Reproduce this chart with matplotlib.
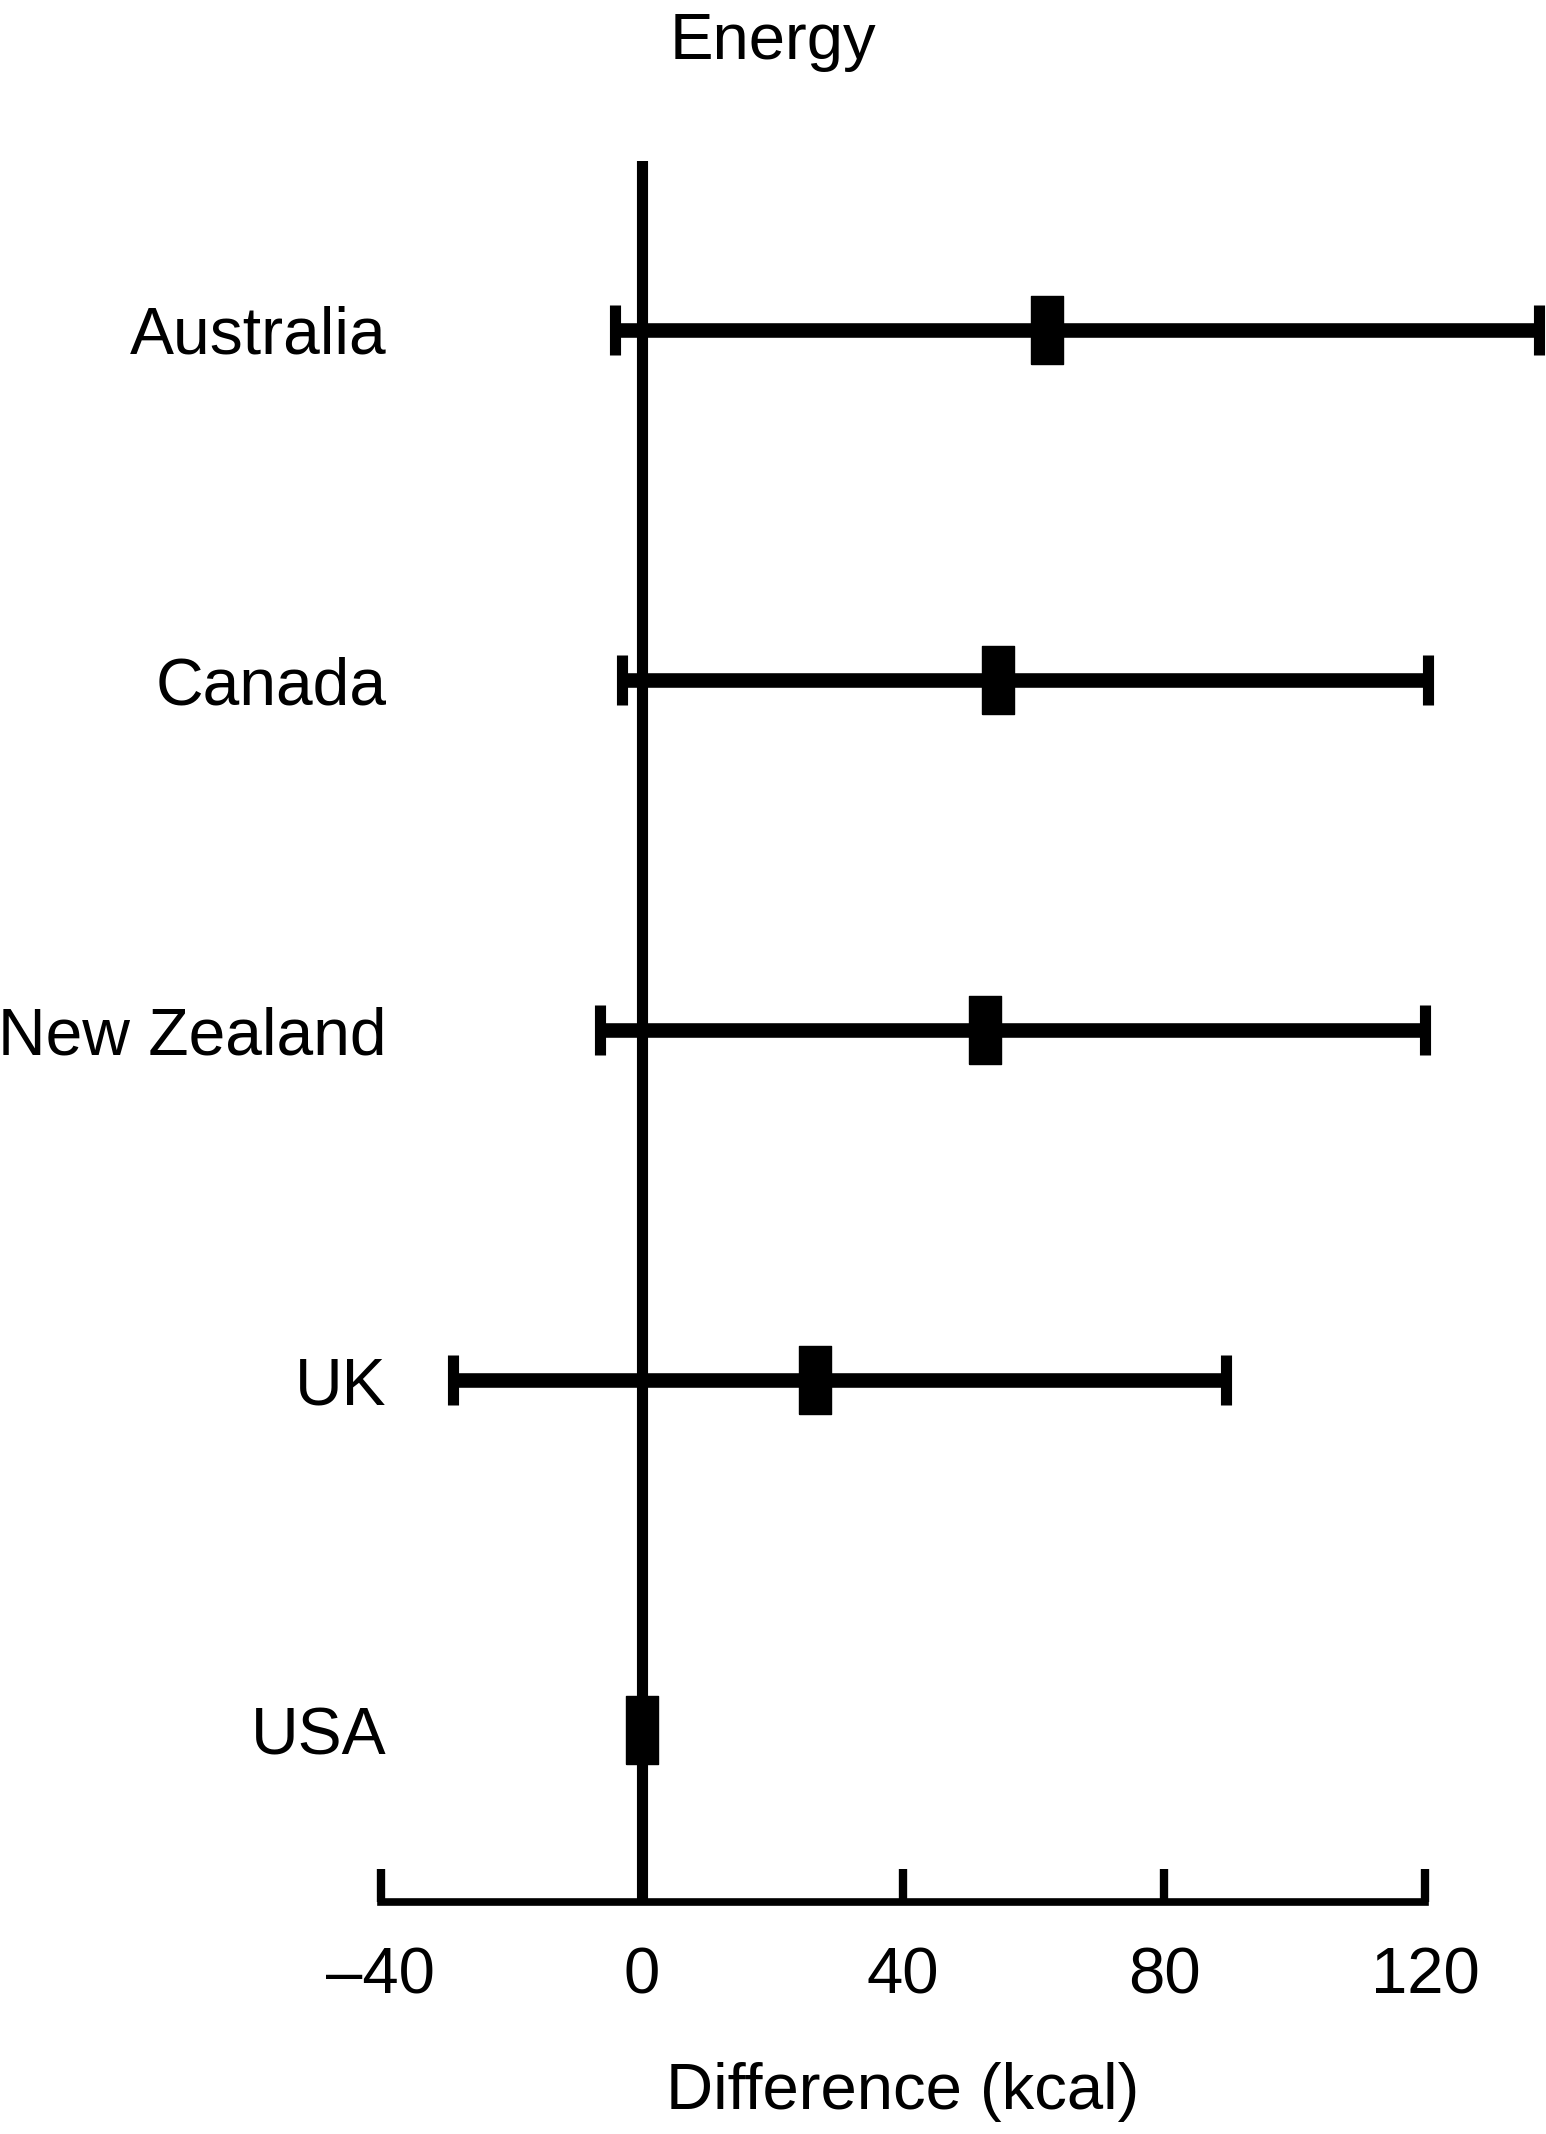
import numpy as np
import matplotlib
matplotlib.use("Agg")
import matplotlib.pyplot as plt

plt.rcParams['font.family'] = ['Liberation Sans', 'DejaVu Sans']

# forest plot values (kcal)
countries = ['USA', 'UK', 'New Zealand', 'Canada', 'Australia']
mean_diff = [0.0, 26.5, 52.5, 54.6, 62.0]
ci_low = [np.nan, -29.0, -6.4, -3.0, -4.1]
ci_high = [np.nan, 89.5, 120.0, 120.5, 137.5]
xticks = [-40, 0, 40, 80, 120]

fs = 47
fig = plt.figure(figsize=(15.46, 21.34), dpi=100)
ax = fig.add_axes([0.2464, 0.1087, 0.7513, 0.9246 - 0.1087])

ypos = np.arange(len(countries))
mean = np.array(mean_diff)
lo = np.array(ci_low)
hi = np.array(ci_high)
has_ci = ~np.isnan(lo)

ax.axvline(0, color='black', lw=8, zorder=1)

ax.errorbar(mean[has_ci], ypos[has_ci],
            xerr=[mean[has_ci] - lo[has_ci], hi[has_ci] - mean[has_ci]],
            fmt='none', ecolor='black', elinewidth=10.5, capsize=18,
            capthick=8, zorder=2, clip_on=False)

# tall rectangle as the point marker
box = [(-0.229, -0.5), (0.229, -0.5), (0.229, 0.5), (-0.229, 0.5), (-0.229, -0.5)]
ax.plot(mean, ypos, linestyle='none', marker=box, markersize=49,
        color='black', zorder=3, clip_on=False)

ax.set_xlim(-40, 138)
ax.set_ylim(-0.491, 4.483)

for s in ['top', 'right', 'left']:
    ax.spines[s].set_visible(False)
ax.spines['bottom'].set_bounds(-40, 120)
ax.spines['bottom'].set_linewidth(5.5)
ax.spines['bottom'].set_capstyle('projecting')

ax.set_xticks(xticks)
ax.set_xticklabels([str(t).replace('-', '\u2013') for t in xticks])
ax.tick_params(axis='x', direction='in', length=24, width=6, pad=32,
               labelsize=fs)
ax.set_yticks(ypos)
ax.set_yticklabels(countries)
ax.tick_params(axis='y', length=0, pad=-4, labelsize=47.5)

ax.set_xlabel('Difference (kcal)', fontsize=fs, labelpad=40)
ax.xaxis.label.set_x((40 + 40) / 178)

fig.text(0.5, 1 - 59 / 2134, 'Energy', ha='center', va='baseline', fontsize=fs)

fig.savefig('out.png', dpi=100)
